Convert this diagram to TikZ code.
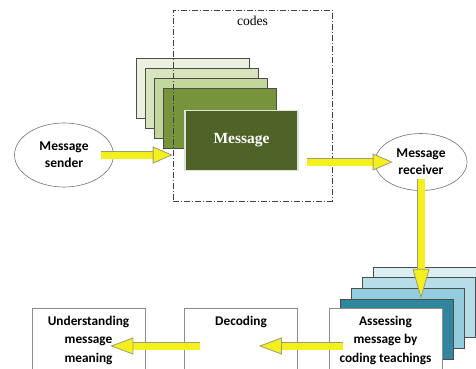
\documentclass[tikz,border=0pt]{standalone}
\usepackage{fontspec}
\setmainfont{Liberation Serif}
\newfontfamily\calibri{Carlito}
\usepackage{tikz}
\usetikzlibrary{arrows.meta,shapes.geometric,positioning}
\definecolor{gA}{HTML}{EBF1DE}
\definecolor{gB}{HTML}{D7E4BD}
\definecolor{gC}{HTML}{C3D69B}
\definecolor{gD}{HTML}{77933C}
\definecolor{gE}{HTML}{4F6228}
\definecolor{bA}{HTML}{DBEEF4}
\definecolor{bB}{HTML}{B7DEE8}
\definecolor{bC}{HTML}{93CDDD}
\definecolor{bD}{HTML}{31859C}
\definecolor{fatyellow}{HTML}{F4F01E}
\definecolor{fatedge}{HTML}{9C9C78}
\tikzset{
  layer/.style={draw=black!70, line width=0.6pt, minimum width=113pt, minimum height=60pt, inner sep=0pt},
  oval/.style={ellipse, draw=black!55, line width=0.6pt, inner sep=0pt, align=center, font=\calibri\bfseries\fontsize{13.5}{17}\selectfont},
  stepbox/.style={draw=black!45, line width=0.7pt, minimum width=113pt, minimum height=76pt, fill=white},
  boxtext/.style={anchor=north, align=center, inner sep=0pt, yshift=-8pt, font=\calibri\bfseries\fontsize{13.3}{18.5}\selectfont},
  fat/.style={draw=fatedge, line width=0.8pt, double=fatyellow, double distance=7pt, -{Triangle[length=#1, width=17pt, fill=fatyellow, line width=0.8pt]}},
  fat/.default=20pt
}
\begin{document}
\begin{tikzpicture}[x=1pt, y=-1pt]
\useasboundingbox (0,0) rectangle (476,369);
\clip (0,0) rectangle (476,369);
% green stack of codes
\foreach \i/\c in {0/gA,1/gB,2/gC,3/gD}
{
  \node[layer, fill=\c] (g\i) at ({192.5+9.2*\i},{88+10.2*\i}) {};
}
\node[layer, fill=gE, draw=black!12, line width=1.5pt, text=white, font=\bfseries\fontsize{15.5}{18}\selectfont] (msg) at (241.5,140.5) {Message};
\node[draw=black!75, line width=0.6pt, dash pattern=on 6pt off 2pt on 1pt off 2pt, minimum width=159pt, minimum height=191pt] (codes) at (252.5,105.5) {};
\node[below=6pt of codes.north, inner sep=0pt, font=\fontsize{13.6}{16}\selectfont] (codestext) {codes};
% blue stack
\foreach \i/\c in {0/bA,1/bB,2/bC,3/bD}
{
  \node[layer, fill=\c] (b\i) at ({429.5-11*\i},{297+10.7*\i}) {};
}
\node[stepbox, label={[boxtext]north:{Assessing\\message by\\coding teachings}}] (assess) at (385.5,346) {};
\node[stepbox, label={[boxtext]north:Decoding}] (decode) at (241,346) {};
\node[stepbox, label={[boxtext]north:{Understanding\\message\\meaning}}] (meaning) at (88.5,346) {};
\node[oval, minimum width=99pt, minimum height=64pt] (sender) at (64,155) {Message\\sender};
\node[oval, minimum width=92pt, minimum height=57pt] (receiver) at (421,162) {Message\\receiver};
% yellow arrows
\draw[fat] ([xshift=-13pt]sender.east) -- (sender.east -| codes.west);
\draw[fat] ([xshift=8pt]msg.east |- receiver) -- ([xshift=18pt]receiver.west);
\draw[fat=30pt] ([yshift=12pt]receiver.south) -- (receiver.south |- b3.north);
\draw[fat=23pt] ([xshift=14pt]assess.west) -- ([xshift=-39pt]decode.east);
\draw[fat=23pt] ([xshift=16pt]decode.west) -- ([xshift=-35pt]meaning.east);
\end{tikzpicture}
\end{document}
